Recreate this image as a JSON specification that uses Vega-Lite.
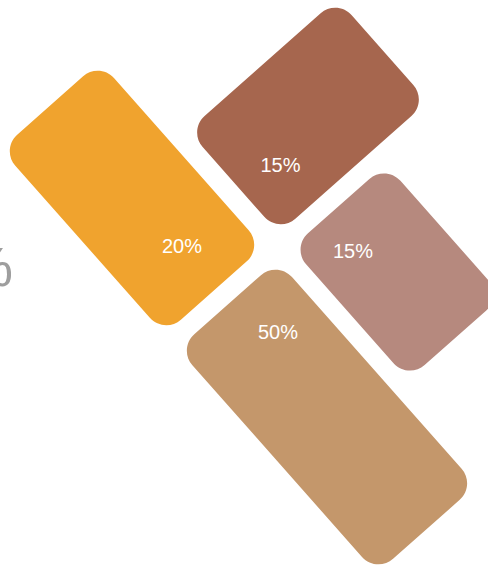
{
  "$schema": "https://vega.github.io/schema/vega-lite/v6.json",
  "width": 488,
  "height": 565,
  "autosize": {"type": "none"},
  "padding": 0,
  "background": "white",
  "config": {"view": {"stroke": null}},
  "datasets": {
    "tiles": [
      {"cat": "A", "pct": "15%", "cx": 308, "cy": 116, "lx": 280.5, "ly": 171.5},
      {"cat": "B", "pct": "20%", "cx": 132, "cy": 198, "lx": 182, "ly": 252.5},
      {"cat": "C", "pct": "15%", "cx": 397, "cy": 272, "lx": 353, "ly": 258},
      {"cat": "D", "pct": "50%", "cx": 327, "cy": 417, "lx": 278, "ly": 339}
    ],
    "side": [
      {"txt": "%", "tx": 13, "ty": 286}
    ]
  },
  "layer": [
    {
      "data": {"name": "tiles"},
      "mark": {"type": "point", "filled": true, "opacity": 1, "size": 4, "angle": 318.5, "strokeWidth": 0},
      "encoding": {
        "x": {"field": "cx", "type": "quantitative", "scale": {"domain": [0, 488], "nice": false, "zero": false}, "axis": null},
        "y": {"field": "cy", "type": "quantitative", "scale": {"domain": [0, 565], "nice": false, "zero": false, "reverse": true}, "axis": null},
        "shape": {
          "field": "cat", "type": "nominal", "legend": null,
          "scale": {
            "domain": ["A", "B", "C", "D"],
            "range": [
              "M -77.5,-68.5 H 77.5 A 22 22 0 0 1 99.5,-46.5 V 46.5 A 22 22 0 0 1 77.5,68.5 H -77.5 A 22 22 0 0 1 -99.5,46.5 V -46.5 A 22 22 0 0 1 -77.5,-68.5 Z",
              "M -44,-123.5 H 44 A 22 22 0 0 1 66,-101.5 V 101.5 A 22 22 0 0 1 44,123.5 H -44 A 22 22 0 0 1 -66,101.5 V -101.5 A 22 22 0 0 1 -44,-123.5 Z",
              "M -41,-88 H 41 A 22 22 0 0 1 63,-66 V 66 A 22 22 0 0 1 41,88 H -41 A 22 22 0 0 1 -63,66 V -66 A 22 22 0 0 1 -41,-88 Z",
              "M -44.5,-150 H 44.5 A 22 22 0 0 1 66.5,-128 V 128 A 22 22 0 0 1 44.5,150 H -44.5 A 22 22 0 0 1 -66.5,128 V -128 A 22 22 0 0 1 -44.5,-150 Z"
            ]
          }
        },
        "color": {
          "field": "cat", "type": "nominal", "legend": null,
          "scale": {"domain": ["A", "B", "C", "D"], "range": ["#A6664E", "#F0A32E", "#B6897E", "#C4976B"]}
        }
      }
    },
    {
      "data": {"name": "tiles"},
      "mark": {"type": "text", "font": "Liberation Sans", "fontSize": 20, "color": "#ffffff", "align": "center", "baseline": "alphabetic"},
      "encoding": {
        "x": {"field": "lx", "type": "quantitative"},
        "y": {"field": "ly", "type": "quantitative"},
        "text": {"field": "pct", "type": "nominal"}
      }
    },
    {
      "data": {"name": "side"},
      "mark": {"type": "text", "font": "Liberation Sans", "fontSize": 56, "color": "#9e9e9e", "align": "right", "baseline": "alphabetic"},
      "encoding": {
        "x": {"field": "tx", "type": "quantitative"},
        "y": {"field": "ty", "type": "quantitative"},
        "text": {"field": "txt", "type": "nominal"}
      }
    }
  ]
}
